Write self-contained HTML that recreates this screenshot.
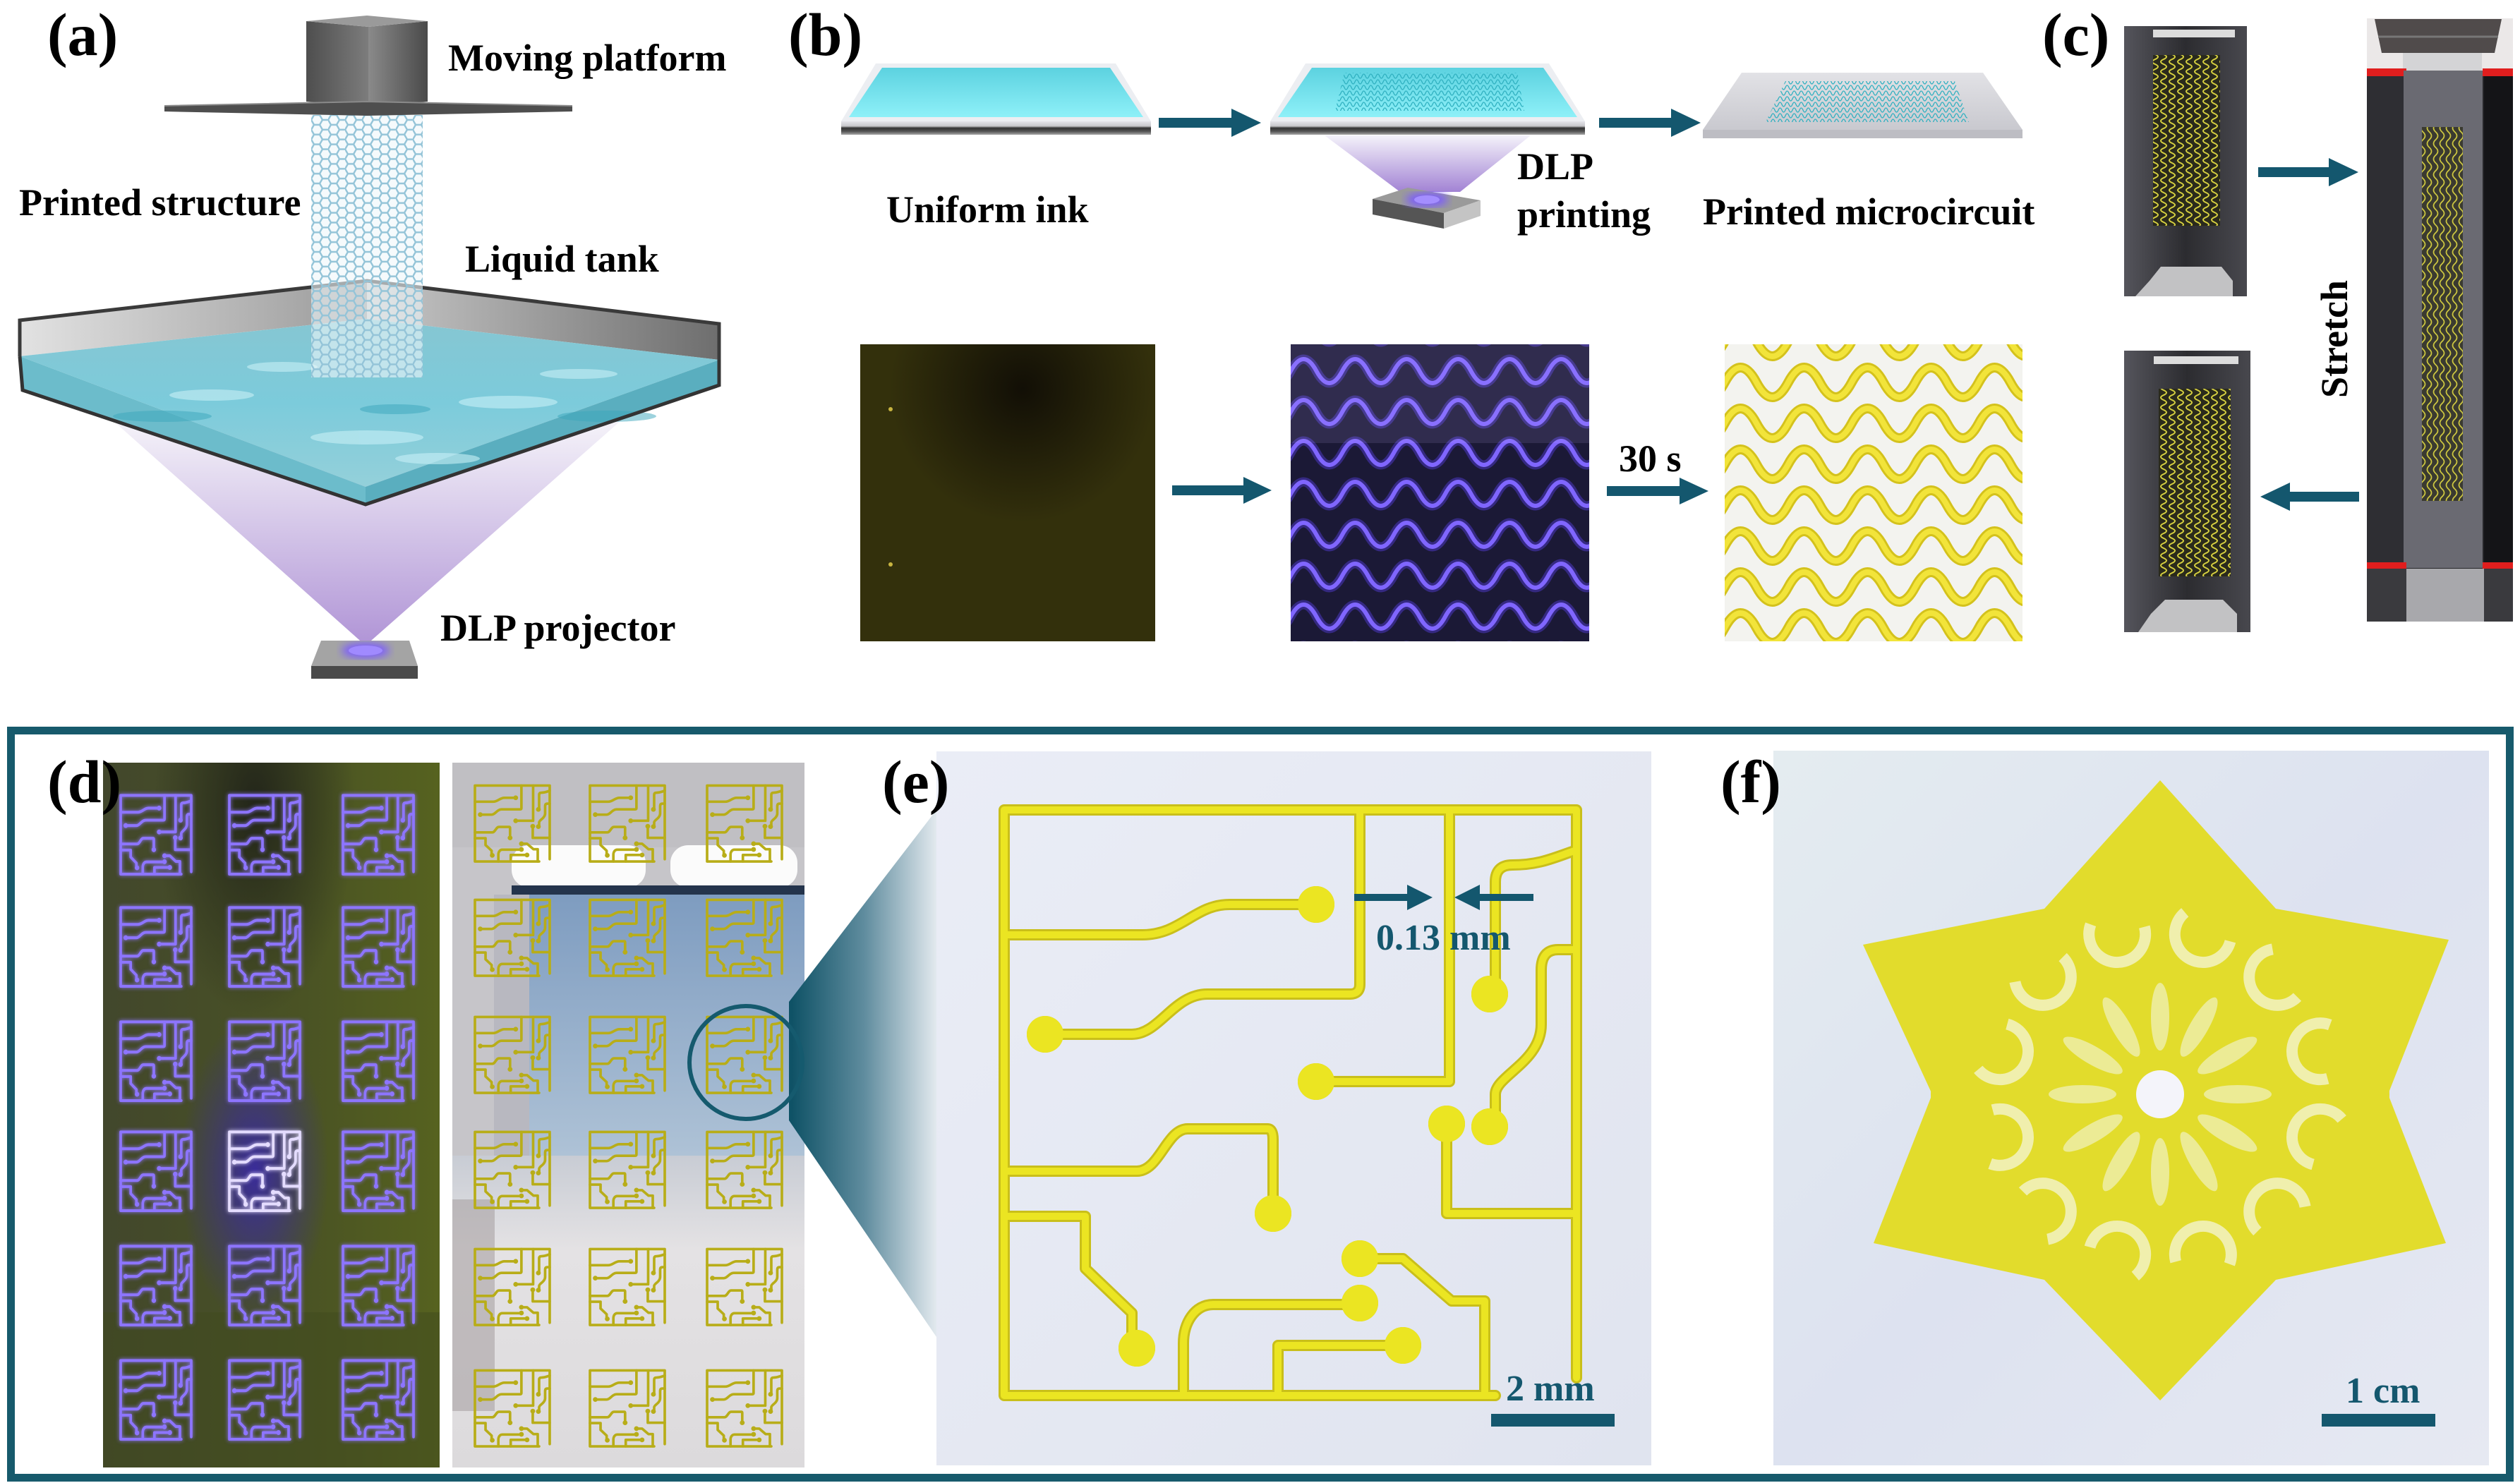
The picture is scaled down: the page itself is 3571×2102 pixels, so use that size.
<!DOCTYPE html>
<html><head><meta charset="utf-8"><style>
html,body{margin:0;padding:0;background:#fff;}
body{width:3571px;height:2102px;overflow:hidden;}
svg{display:block;font-family:"Liberation Serif",serif;font-weight:bold;}
</style></head><body>
<svg width="3571" height="2102" viewBox="0 0 3571 2102" xmlns="http://www.w3.org/2000/svg" font-family="Liberation Serif, serif" font-weight="bold">
<defs>
<linearGradient id="cone" x1="0" y1="0" x2="0" y2="1"><stop offset="0" stop-color="#f5f3f9"/><stop offset="1" stop-color="#b094d6"/></linearGradient>
<linearGradient id="cone2" x1="0" y1="0" x2="0" y2="1"><stop offset="0" stop-color="#f4f2fa"/><stop offset="1" stop-color="#a283d4"/></linearGradient>
<linearGradient id="wallL" x1="0" y1="0" x2="1" y2="0"><stop offset="0" stop-color="#e2e2e2"/><stop offset="1" stop-color="#9a9a9a"/></linearGradient>
<linearGradient id="wallR" x1="0" y1="0" x2="1" y2="0"><stop offset="0" stop-color="#c8c8c8"/><stop offset="1" stop-color="#6e6e6e"/></linearGradient>
<linearGradient id="waterTop" x1="0" y1="0" x2="0" y2="1"><stop offset="0" stop-color="#86c6d2"/><stop offset="0.5" stop-color="#7ccbdb"/><stop offset="1" stop-color="#94d0da"/></linearGradient>
<linearGradient id="boxL" x1="0" y1="0" x2="1" y2="0"><stop offset="0" stop-color="#4e4e4e"/><stop offset="1" stop-color="#7c7c7c"/></linearGradient>
<linearGradient id="boxR" x1="0" y1="0" x2="1" y2="0"><stop offset="0" stop-color="#8a8a8a"/><stop offset="1" stop-color="#4a4a4a"/></linearGradient>
<linearGradient id="slabTop" x1="0" y1="0" x2="0" y2="1"><stop offset="0" stop-color="#5cd2e0"/><stop offset="1" stop-color="#8ef0f8"/></linearGradient>
<linearGradient id="slabEdge" x1="0" y1="0" x2="0" y2="1"><stop offset="0" stop-color="#e4e4ea"/><stop offset="0.35" stop-color="#c8c8cc"/><stop offset="0.5" stop-color="#333"/><stop offset="0.75" stop-color="#555"/><stop offset="1" stop-color="#aaa"/></linearGradient>
<linearGradient id="slab3" x1="0" y1="0" x2="0" y2="1"><stop offset="0" stop-color="#e2e2e6"/><stop offset="1" stop-color="#c9c9cf"/></linearGradient>
<linearGradient id="fan" gradientUnits="userSpaceOnUse" x1="1122" y1="0" x2="1327" y2="0"><stop offset="0" stop-color="#0f5266"/><stop offset="0.5" stop-color="#5f8c9e"/><stop offset="1" stop-color="#e2e9ee"/></linearGradient>
<radialGradient id="darkblob" cx="0.55" cy="0.15" r="0.45"><stop offset="0" stop-color="#120f06"/><stop offset="1" stop-color="#120f06" stop-opacity="0"/></radialGradient>
<radialGradient id="d1dark" cx="0.45" cy="0.06" r="0.3"><stop offset="0" stop-color="#23261a"/><stop offset="1" stop-color="#23261a" stop-opacity="0"/></radialGradient>
<radialGradient id="d1blue" cx="0.45" cy="0.58" r="0.22"><stop offset="0" stop-color="#3a2c9a"/><stop offset="1" stop-color="#3a2c9a" stop-opacity="0"/></radialGradient>
<linearGradient id="d1side" x1="0" y1="0" x2="1" y2="0"><stop offset="0" stop-color="#42472c"/><stop offset="0.6" stop-color="#4a5324"/><stop offset="1" stop-color="#56621f"/></linearGradient>
<linearGradient id="d2win" x1="0" y1="0" x2="0" y2="1"><stop offset="0" stop-color="#7e9cc0"/><stop offset="1" stop-color="#aec2d6"/></linearGradient>
<linearGradient id="d2bot" x1="0" y1="0" x2="0" y2="1"><stop offset="0" stop-color="#c8ccd4"/><stop offset="0.3" stop-color="#e4e2e4"/><stop offset="1" stop-color="#dcdadc"/></linearGradient>
<linearGradient id="c1bg" x1="0" y1="0" x2="1" y2="0"><stop offset="0" stop-color="#55555c"/><stop offset="0.5" stop-color="#2c2c30"/><stop offset="1" stop-color="#48484e"/></linearGradient>
<linearGradient id="ebg" x1="0" y1="0" x2="1" y2="1"><stop offset="0" stop-color="#eaedf6"/><stop offset="1" stop-color="#e0e4ef"/></linearGradient>
<linearGradient id="fbg" x1="0" y1="0" x2="1" y2="1"><stop offset="0" stop-color="#e4ecf0"/><stop offset="0.5" stop-color="#dde2f0"/><stop offset="1" stop-color="#e6e9f2"/></linearGradient>
<pattern id="hex" patternUnits="userSpaceOnUse" x="441" y="163" width="24" height="13.86"><path d="M0 6.93 L4 0 H12 L16 6.93 L12 13.86 H4 Z M16 6.93 H24" fill="none" stroke="#94c4d8" stroke-width="2.4"/></pattern>
<pattern id="pw" patternUnits="userSpaceOnUse" x="1829" y="497" width="73" height="58"><path d="M-36.5 29 q18.25 34 36.5 0 t36.5 0 t36.5 0 t36.5 0" fill="none" stroke="#4b36c0" stroke-width="13" stroke-opacity="0.55"/><path d="M-36.5 29 q18.25 34 36.5 0 t36.5 0 t36.5 0 t36.5 0" fill="none" stroke="#8066ff" stroke-width="6"/></pattern>
<pattern id="yw" patternUnits="userSpaceOnUse" x="2444" y="513" width="90" height="58"><path d="M-45 29 q22.5 42 45 0 t45 0 t45 0 t45 0" fill="none" stroke="#d4c21c" stroke-width="14"/><path d="M-45 29 q22.5 42 45 0 t45 0 t45 0 t45 0" fill="none" stroke="#f2e43a" stroke-width="8"/></pattern>
<pattern id="zz" patternUnits="userSpaceOnUse" width="12" height="14"><path d="M6 -7 q8 3.5 0 7 t0 7 t0 7 t0 7" fill="none" stroke="#d6d040" stroke-width="2"/></pattern>
<pattern id="zz2" patternUnits="userSpaceOnUse" width="9" height="22"><path d="M4.5 -11 q6 5.5 0 11 t0 11 t0 11 t0 11" fill="none" stroke="#ccc640" stroke-width="1.8"/></pattern>
<pattern id="sz" patternUnits="userSpaceOnUse" width="10" height="8"><path d="M-5 4 q2.5 6 5 0 t5 0 t5 0 t5 0" fill="none" stroke="#2fb0c0" stroke-width="1.3"/></pattern>
<filter id="glow" x="-20%" y="-20%" width="140%" height="140%"><feGaussianBlur stdDeviation="3" result="b"/><feMerge><feMergeNode in="b"/><feMergeNode in="SourceGraphic"/></feMerge></filter>
<filter id="blur6"><feGaussianBlur stdDeviation="6"/></filter>
<g id="circ" fill="none" stroke="currentColor" stroke-linecap="round" stroke-linejoin="round">
<path d="M696 833 H0 V3 H811 V808"/>
<path d="M0 180 H196 C250 180 270 137 319 137 H442"/>
<path d="M504 3 V250 Q504 264 490 264 H288 C240 264 220 321 181 321 H58"/>
<path d="M631 3 V388 H442"/>
<path d="M811 60 C780 70 760 81 720 81 Q696 81 696 105 V264"/>
<path d="M811 201 H785 Q761 201 761 230 V307 C761 360 696 380 696 406 V452"/>
<path d="M627 448 V575 H811"/>
<path d="M0 515 H188 C220 515 230 455 260 455 H373 Q381 455 381 470 V575"/>
<path d="M0 579 H115 V653 L181 716 V766"/>
<path d="M504 639 H565 L634 699 H681 V833"/>
<path d="M504 704 H296 C270 704 254 730 254 759 V833"/>
<path d="M565 762 H388 V833"/>
<g fill="currentColor" stroke="none">
<circle cx="442" cy="137" r="26"/><circle cx="58" cy="321" r="26"/><circle cx="442" cy="388" r="26"/><circle cx="688" cy="264" r="26"/><circle cx="688" cy="452" r="26"/><circle cx="627" cy="448" r="26"/><circle cx="381" cy="575" r="26"/><circle cx="188" cy="766" r="26"/><circle cx="504" cy="639" r="26"/><circle cx="504" cy="702" r="26"/><circle cx="565" cy="762" r="26"/>
</g>
</g>
</defs>

<rect width="3571" height="2102" fill="#fff"/>

<!-- ========== (a) ========== -->
<polygon points="160,596 880,596 518,915" fill="url(#cone)"/>
<polygon points="28,454 520,398 520,452 28,505" fill="url(#wallL)"/>
<polygon points="520,398 1019,459 1019,510 520,452" fill="url(#wallR)"/>
<polygon points="28,505 520,452 1019,510 518,690" fill="url(#waterTop)"/>
<polygon points="28,505 518,690 518,715 32,553" fill="#6cbccb"/>
<polygon points="518,690 1019,510 1019,546 518,715" fill="#5aaebf"/>
<g fill="#c8f0f6" opacity="0.6">
<ellipse cx="300" cy="560" rx="60" ry="8"/><ellipse cx="720" cy="570" rx="70" ry="9"/><ellipse cx="520" cy="620" rx="80" ry="10"/><ellipse cx="400" cy="520" rx="50" ry="7"/><ellipse cx="820" cy="530" rx="55" ry="7"/><ellipse cx="620" cy="650" rx="60" ry="8"/>
</g>
<g fill="#3aa6bc" opacity="0.5">
<ellipse cx="230" cy="590" rx="70" ry="8"/><ellipse cx="860" cy="590" rx="70" ry="8"/><ellipse cx="560" cy="580" rx="50" ry="7"/>
</g>
<polyline points="28,505 28,454 520,398 1019,459 1019,510" fill="none" stroke="#3a3a3a" stroke-width="5"/>
<polyline points="28,505 32,553 518,715 1019,546 1019,510" fill="none" stroke="#333" stroke-width="5"/>
<rect x="441" y="163" width="158" height="372" fill="#eef6fa" opacity="0.6"/>
<rect x="441" y="163" width="158" height="372" fill="url(#hex)"/>
<polygon points="434,30 522,38 522,151 434,144" fill="url(#boxL)"/>
<polygon points="522,38 606,30 606,144 522,151" fill="url(#boxR)"/>
<polygon points="434,30 520,22 606,30 522,38" fill="#9a9a9a"/>
<polygon points="233,150 520,144 811,150 811,158 520,164 233,158" fill="#4e4e4e"/>
<polyline points="233,150 520,144 811,150" fill="none" stroke="#8a8a8a" stroke-width="2"/>
<polygon points="455,908 580,908 592,944 441,944" fill="#a4a4a4"/>
<polygon points="441,944 592,944 592,962 441,962" fill="#4a4a4a"/>
<ellipse cx="518" cy="922" rx="34" ry="11" fill="#7c5cff" filter="url(#blur6)"/>
<ellipse cx="518" cy="922" rx="24" ry="7" fill="#a08aff"/>
<text x="67" y="78" font-size="86">(a)</text>
<text x="635" y="100" font-size="54">Moving platform</text>
<text x="27" y="305" font-size="54">Printed structure</text>
<text x="659" y="385" font-size="54">Liquid tank</text>
<text x="624" y="908" font-size="54">DLP projector</text>

<!-- ========== (b) ========== -->
<text x="1117" y="78" font-size="86">(b)</text>
<polygon points="1241,90 1581,90 1631,172 1192,172" fill="#eceef2"/>
<polygon points="1250,96 1573,96 1620,166 1203,166" fill="url(#slabTop)"/>
<rect x="1192" y="172" width="439" height="19" fill="url(#slabEdge)"/>
<polygon points="1850,90 2195,90 2246,172 1800,172" fill="#eceef2"/>
<polygon points="1859,96 2187,96 2235,166 1811,166" fill="url(#slabTop)"/>
<polygon points="1905,103 2150,103 2160,157 1892,157" fill="url(#sz)"/>
<rect x="1800" y="172" width="446" height="19" fill="url(#slabEdge)"/>
<polygon points="1877,192 2169,192 2069,272 1984,272" fill="url(#cone2)"/>
<polygon points="1945,282 1995,266 2098,284 2046,302" fill="#9a9a9a"/>
<polygon points="1945,282 2046,302 2046,324 1945,304" fill="#555"/>
<polygon points="2046,302 2098,284 2098,306 2046,324" fill="#c4c4c4"/>
<ellipse cx="2022" cy="283" rx="30" ry="10" fill="#7c5cff" filter="url(#blur6)"/>
<ellipse cx="2022" cy="283" rx="18" ry="6" fill="#a48eff"/>
<polygon points="2468,103 2810,103 2866,184 2413,184" fill="url(#slab3)"/>
<rect x="2413" y="184" width="453" height="12" fill="#bdbdc3"/>
<polygon points="2530,115 2770,115 2790,173 2502,173" fill="url(#sz)"/>
<g fill="#14576e">
<polygon points="1642,167 1745,167 1745,154 1787,174 1745,194 1745,181 1642,181"/>
<polygon points="2266,167 2368,167 2368,154 2410,174 2368,194 2368,181 2266,181"/>
<polygon points="1661,688 1762,688 1762,676 1802,695 1762,714 1762,702 1661,702"/>
<polygon points="2277,689 2380,689 2380,677 2421,696 2380,715 2380,703 2277,703"/>
<polygon points="3200,237 3300,237 3300,224 3342,244 3300,264 3300,251 3200,251"/>
<polygon points="3343,697 3245,697 3245,684 3203,704 3245,724 3245,711 3343,711"/>
</g>
<text x="1256" y="315" font-size="54">Uniform ink</text>
<text x="2150" y="254" font-size="54">DLP</text>
<text x="2150" y="322" font-size="54">printing</text>
<text x="2413" y="318" font-size="54">Printed microcircuit</text>
<text x="2294" y="668" font-size="54">30 s</text>
<rect x="1219" y="488" width="418" height="421" fill="#33300c"/>
<rect x="1219" y="488" width="418" height="421" fill="url(#darkblob)"/>
<circle cx="1262" cy="580" r="3" fill="#c8b440"/><circle cx="1262" cy="800" r="3" fill="#c8b440"/>
<rect x="1829" y="488" width="423" height="421" fill="#1b1936"/>
<rect x="1829" y="488" width="423" height="421" fill="url(#pw)"/>
<rect x="1829" y="488" width="423" height="140" fill="#d0c0ff" opacity="0.12"/>
<rect x="2444" y="488" width="422" height="421" fill="#f3f3ef"/>
<rect x="2444" y="488" width="422" height="421" fill="url(#yw)"/>

<!-- ========== (c) ========== -->
<text x="2894" y="78" font-size="86">(c)</text>
<rect x="3010" y="37" width="174" height="383" fill="url(#c1bg)"/>
<rect x="3051" y="42" width="116" height="11" fill="#dcdcdc"/>
<rect x="3051" y="78" width="95" height="242" fill="#2a2a1c"/>
<rect x="3051" y="78" width="95" height="242" fill="url(#zz)"/>
<polygon points="3062,378 3148,378 3164,398 3164,420 3026,420 3046,398" fill="#c2c2c4"/>
<rect x="3010" y="497" width="179" height="399" fill="url(#c1bg)"/>
<rect x="3052" y="505" width="120" height="11" fill="#dcdcdc"/>
<rect x="3059" y="551" width="102" height="266" fill="#2a2a1c"/>
<rect x="3059" y="551" width="102" height="266" fill="url(#zz)"/>
<polygon points="3068,850 3150,850 3170,870 3170,896 3030,896 3048,870" fill="#c2c2c4"/>
<rect x="3354" y="26" width="207" height="855" fill="#262629"/>
<rect x="3354" y="26" width="207" height="75" fill="#ebe8e8"/>
<polygon points="3365,27 3545,27 3535,75 3375,75" fill="#504b4b"/>
<line x1="3370" y1="52" x2="3540" y2="52" stroke="#777" stroke-width="3"/>
<rect x="3405" y="75" width="112" height="25" fill="#d4d4d6"/>
<rect x="3354" y="97" width="56" height="11" fill="#e01e1e"/>
<rect x="3518" y="97" width="43" height="11" fill="#e01e1e"/>
<rect x="3354" y="108" width="52" height="692" fill="#2e2e33"/>
<rect x="3520" y="108" width="41" height="692" fill="#141417"/>
<rect x="3406" y="100" width="112" height="705" fill="#6a6a72"/>
<rect x="3432" y="180" width="58" height="530" fill="#3a3a30"/>
<rect x="3432" y="180" width="58" height="530" fill="url(#zz2)"/>
<rect x="3354" y="797" width="56" height="9" fill="#e01e1e"/>
<rect x="3518" y="797" width="43" height="9" fill="#e01e1e"/>
<rect x="3410" y="806" width="110" height="75" fill="#a8a8ac"/>
<rect x="3354" y="806" width="56" height="75" fill="#3a3a3e"/>
<rect x="3520" y="806" width="41" height="75" fill="#3a3a3e"/>
<text transform="translate(3326 564) rotate(-90)" font-size="54">Stretch</text>

<!-- ========== bottom frame ========== -->
<rect x="15.5" y="1035.5" width="3541" height="1059" fill="none" stroke="#175a6c" stroke-width="11"/>

<!-- (d) -->
<rect x="146" y="1081" width="477" height="999" fill="url(#d1side)"/>
<rect x="146" y="1081" width="477" height="999" fill="url(#d1dark)"/>
<rect x="146" y="1081" width="477" height="999" fill="url(#d1blue)"/>
<rect x="146" y="1860" width="477" height="220" fill="#3f4a1e" opacity="0.5"/>
<g filter="url(#glow)" style="color:#8d74ff" stroke-width="30">
<use href="#circ" transform="translate(171 1127) scale(.1233 .1345)"/>
<use href="#circ" transform="translate(325 1127) scale(.1233 .1345)"/>
<use href="#circ" transform="translate(486 1127) scale(.1233 .1345)"/>
<use href="#circ" transform="translate(171 1286) scale(.1233 .1345)"/>
<use href="#circ" transform="translate(325 1286) scale(.1233 .1345)"/>
<use href="#circ" transform="translate(486 1286) scale(.1233 .1345)"/>
<use href="#circ" transform="translate(171 1448) scale(.1233 .1345)"/>
<use href="#circ" transform="translate(325 1448) scale(.1233 .1345)"/>
<use href="#circ" transform="translate(486 1448) scale(.1233 .1345)"/>
<use href="#circ" transform="translate(171 1604) scale(.1233 .1345)"/>
<use href="#circ" transform="translate(325 1604) scale(.1233 .1345)" style="color:#e4dcff"/>
<use href="#circ" transform="translate(486 1604) scale(.1233 .1345)"/>
<use href="#circ" transform="translate(171 1766) scale(.1233 .1345)"/>
<use href="#circ" transform="translate(325 1766) scale(.1233 .1345)"/>
<use href="#circ" transform="translate(486 1766) scale(.1233 .1345)"/>
<use href="#circ" transform="translate(171 1928) scale(.1233 .1345)"/>
<use href="#circ" transform="translate(325 1928) scale(.1233 .1345)"/>
<use href="#circ" transform="translate(486 1928) scale(.1233 .1345)"/>
</g>
<rect x="641" y="1081" width="499" height="999" fill="#c6c5c9"/>
<rect x="641" y="1081" width="499" height="120" fill="#c0bfc3"/>
<rect x="725" y="1198" width="190" height="60" rx="25" fill="#fbfbfb"/>
<rect x="950" y="1198" width="180" height="60" rx="25" fill="#fbfbfb"/>
<rect x="725" y="1255" width="415" height="14" fill="#24344c"/>
<rect x="750" y="1268" width="390" height="370" fill="url(#d2win)"/>
<rect x="700" y="1268" width="50" height="370" fill="#b8b8c0"/>
<rect x="641" y="1638" width="499" height="442" fill="url(#d2bot)"/>
<rect x="641" y="1700" width="60" height="300" fill="#a8a2a4" opacity="0.6"/>
<g style="color:#b8ad18" stroke-width="28">
<use href="#circ" transform="translate(673 1113) scale(.1307 .1297)"/>
<use href="#circ" transform="translate(836 1113) scale(.1307 .1297)"/>
<use href="#circ" transform="translate(1002 1113) scale(.1307 .1297)"/>
<use href="#circ" transform="translate(673 1275) scale(.1307 .1297)"/>
<use href="#circ" transform="translate(836 1275) scale(.1307 .1297)"/>
<use href="#circ" transform="translate(1002 1275) scale(.1307 .1297)"/>
<use href="#circ" transform="translate(673 1441) scale(.1307 .1297)"/>
<use href="#circ" transform="translate(836 1441) scale(.1307 .1297)"/>
<use href="#circ" transform="translate(1002 1441) scale(.1307 .1297)"/>
<use href="#circ" transform="translate(673 1604) scale(.1307 .1297)"/>
<use href="#circ" transform="translate(836 1604) scale(.1307 .1297)"/>
<use href="#circ" transform="translate(1002 1604) scale(.1307 .1297)"/>
<use href="#circ" transform="translate(673 1770) scale(.1307 .1297)"/>
<use href="#circ" transform="translate(836 1770) scale(.1307 .1297)"/>
<use href="#circ" transform="translate(1002 1770) scale(.1307 .1297)"/>
<use href="#circ" transform="translate(673 1942) scale(.1307 .1297)"/>
<use href="#circ" transform="translate(836 1942) scale(.1307 .1297)"/>
<use href="#circ" transform="translate(1002 1942) scale(.1307 .1297)"/>
</g>
<text x="67" y="1137" font-size="86">(d)</text>
<polygon points="1118,1420 1327,1148 1327,1895 1118,1588" fill="url(#fan)"/>
<circle cx="1057" cy="1506" r="80" fill="none" stroke="#155a6e" stroke-width="6"/>

<!-- (e) -->
<rect x="1327" y="1065" width="1013" height="1012" fill="url(#ebg)"/>
<use href="#circ" transform="translate(1423 1145)" style="color:#c9bf1a" stroke-width="16"/>
<use href="#circ" transform="translate(1423 1145)" style="color:#ebe522" stroke-width="10"/>
<g fill="#14576e">
<polygon points="1919,1267 1994,1267 1994,1254 2030,1272 1994,1290 1994,1277 1919,1277"/>
<polygon points="2173,1267 2097,1267 2097,1254 2061,1272 2097,1290 2097,1277 2173,1277"/>
<rect x="2113" y="2004" width="175" height="18"/>
</g>
<text x="1950" y="1346" font-size="52" fill="#14576e">0.13 mm</text>
<text x="2134" y="1985" font-size="52" fill="#14576e">2 mm</text>
<text x="1250" y="1137" font-size="86">(e)</text>

<!-- (f) -->
<rect x="2513" y="1064" width="1014" height="1013" fill="url(#fbg)"/>
<polygon points="3061,1106 3225,1288 3470,1332 3384,1551 3466,1762 3225,1814 3061,1985 2897,1814 2655,1762 2738,1551 2640,1339 2897,1288" fill="#e2dc2c"/>
<ellipse cx="3061" cy="1551" rx="325" ry="290" fill="#e2dc2c"/>
<g transform="translate(3061 1551)">
<g fill="#f0f0b8" opacity="0.75">
<ellipse cy="-110" rx="13" ry="48"/>
<ellipse cy="-110" rx="13" ry="48" transform="rotate(30)"/>
<ellipse cy="-110" rx="13" ry="48" transform="rotate(60)"/>
<ellipse cy="-110" rx="13" ry="48" transform="rotate(90)"/>
<ellipse cy="-110" rx="13" ry="48" transform="rotate(120)"/>
<ellipse cy="-110" rx="13" ry="48" transform="rotate(150)"/>
<ellipse cy="-110" rx="13" ry="48" transform="rotate(180)"/>
<ellipse cy="-110" rx="13" ry="48" transform="rotate(210)"/>
<ellipse cy="-110" rx="13" ry="48" transform="rotate(240)"/>
<ellipse cy="-110" rx="13" ry="48" transform="rotate(270)"/>
<ellipse cy="-110" rx="13" ry="48" transform="rotate(300)"/>
<ellipse cy="-110" rx="13" ry="48" transform="rotate(330)"/>
</g>
<g fill="none" stroke="#f2f2c6" stroke-width="16" opacity="0.85" stroke-dasharray="150 120">
<circle cy="-235" r="40" transform="rotate(15)"/>
<circle cy="-235" r="40" transform="rotate(45)"/>
<circle cy="-235" r="40" transform="rotate(75)"/>
<circle cy="-235" r="40" transform="rotate(105)"/>
<circle cy="-235" r="40" transform="rotate(135)"/>
<circle cy="-235" r="40" transform="rotate(165)"/>
<circle cy="-235" r="40" transform="rotate(195)"/>
<circle cy="-235" r="40" transform="rotate(225)"/>
<circle cy="-235" r="40" transform="rotate(255)"/>
<circle cy="-235" r="40" transform="rotate(285)"/>
<circle cy="-235" r="40" transform="rotate(315)"/>
<circle cy="-235" r="40" transform="rotate(345)"/>
</g>
<circle r="34" fill="#f4f4fa"/>
</g>
<rect x="3290" y="2004" width="161" height="18" fill="#14576e"/>
<text x="3324" y="1988" font-size="52" fill="#14576e">1 cm</text>
<text x="2438" y="1137" font-size="86">(f)</text>
</svg>
</body></html>
